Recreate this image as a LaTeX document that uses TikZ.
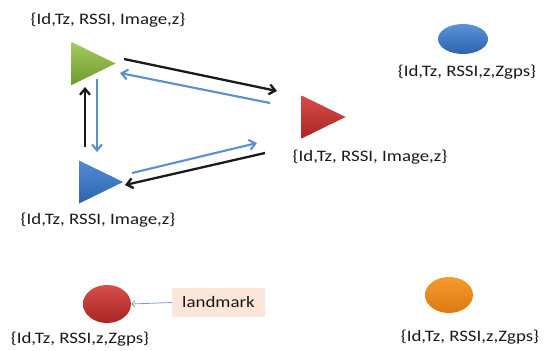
\documentclass[tikz,border=0pt]{standalone}
\usepackage{fontspec}
\setmainfont{Carlito}[FakeStretch=1.18]
\usetikzlibrary{arrows.meta,shapes.geometric}

\definecolor{gtri}{HTML}{8DBE3C}
\definecolor{gtrid}{HTML}{6E9A2A}
\definecolor{rtri}{HTML}{D23A36}
\definecolor{rtrid}{HTML}{A82524}
\definecolor{btri}{HTML}{3F7FD0}
\definecolor{btrid}{HTML}{2D63AE}
\definecolor{oell}{HTML}{F59A2C}
\definecolor{oelld}{HTML}{DC7A14}
\definecolor{arrblue}{HTML}{5B8FD2}
\definecolor{arrblack}{HTML}{1A1A1A}
\definecolor{peach}{HTML}{FBE6D7}
\definecolor{thinarr}{HTML}{7F9CC4}

\tikzset{
  tri/.style={isosceles triangle, isosceles triangle stretches, shape border rotate=0,
    minimum width=43pt, minimum height=44pt, inner sep=0pt, draw=none},
  sensor/.style={ellipse, minimum width=49pt, inner sep=0pt, draw=none},
  lbl/.style={font=\fontsize{16}{18}\selectfont, text=black!90, inner sep=0pt},
  blk/.style={draw=arrblack, line width=2.3pt, -{Straight Barb[length=6pt,width=10pt]}},
  blu/.style={draw=arrblue, line width=2.1pt, -{Straight Barb[length=6pt,width=10pt]}},
}

\begin{document}
\begin{tikzpicture}[x=1pt,y=-1pt]
\useasboundingbox (0,0) rectangle (552,351);

% moving nodes (triangles)
\node[tri, top color=gtri!80, bottom color=gtrid] (g) at (85,63.5) {};
\node[tri, top color=btri!90, bottom color=btrid] (b) at (92.5,182) {};
\node[tri, top color=rtri!90, bottom color=rtrid] (r) at (315,117) {};

% fixed nodes (ellipses)
\node[sensor, minimum height=30pt, minimum width=50pt, top color=btri!85, bottom color=btrid] (eb) at (463,39) {};
\node[sensor, minimum height=38pt, minimum width=48pt, top color=rtri!90, bottom color=rtrid] (er) at (107,304) {};
\node[sensor, minimum height=36pt, minimum width=48pt, top color=oell, bottom color=oelld] (eo) at (449,295) {};

% labels
\node[lbl] (lg) at (108,20) {\{Id,Tz, RSSI, Image,z\}};
\node[lbl] (lb) at (98,220) {\{Id,Tz, RSSI, Image,z\}};
\node[lbl] (lr) at (370,157) {\{Id,Tz, RSSI, Image,z\}};
\node[lbl] (leb) at (467,72) {\{Id,Tz, RSSI,z,Zgps\}};
\node[lbl] (ler) at (80,339) {\{Id,Tz, RSSI,z,Zgps\}};
\node[lbl] (leo) at (470,337) {\{Id,Tz, RSSI,z,Zgps\}};

% landmark tag
\node[lbl, fill=peach, minimum width=93pt, minimum height=29pt] (lm) at (218.5,302.5) {landmark};
\draw[draw=thinarr, line width=0.8pt, -{Straight Barb[length=3pt,width=6pt]}] (lm.west) -- (er.east);

% exchanges between triangles
\draw[blk] ([shift={(39,-4.5)}]g.center) -- ([shift={(-38,-26)}]r.center);
\draw[blu] ([shift={(-45,-14)}]r.center) -- ([shift={(35,9.5)}]g.center);
\draw[blk] ([shift={(-7.5,-35)}]b.center) -- ([shift={(0,23.5)}]g.center);
\draw[blu] ([shift={(12,15.5)}]g.center) -- ([shift={(4.5,-30)}]b.center);
\draw[blu] ([shift={(39.5,-9)}]b.center) -- ([shift={(-58,26)}]r.center);
\draw[blk] ([shift={(-50,36)}]r.center) -- ([shift={(32.5,3)}]b.center);
\end{tikzpicture}
\end{document}
